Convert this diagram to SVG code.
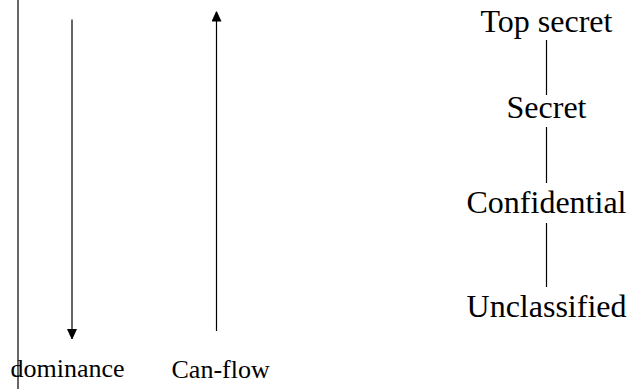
<svg xmlns="http://www.w3.org/2000/svg" width="628" height="389" viewBox="0 0 628 389">
<style>
.t{font-family:"Liberation Serif","Times New Roman",serif;fill:#000}
.big{font-size:32px;text-anchor:middle}
.sm{font-size:26px}
.ln{stroke:#000;stroke-width:1.2;fill:none}
</style>
<defs>
<marker id="ah" markerWidth="10" markerHeight="11" refX="10" refY="5" orient="auto" markerUnits="userSpaceOnUse">
<path d="M0,0 L11,5 L0,10 Z" fill="#000"/>
</marker>
</defs>
<rect width="628" height="389" fill="#fff"/>
<g id="connectors">
<line class="ln" x1="18" y1="0" x2="18" y2="389"/>
<line class="ln" x1="72" y1="19.5" x2="72" y2="339" marker-end="url(#ah)"/>
<line class="ln" x1="216.5" y1="331" x2="216.5" y2="11.5" marker-end="url(#ah)"/>
<line class="ln" x1="546.5" y1="40" x2="546.5" y2="95"/>
<line class="ln" x1="546.5" y1="127" x2="546.5" y2="183"/>
<line class="ln" x1="546.5" y1="223" x2="546.5" y2="287"/>
</g>
<g id="dominance"><text class="t sm" x="10.5" y="377">dominance</text></g>
<g id="canflow"><text class="t sm" x="171.5" y="378">Can-flow</text></g>
<g id="topsecret"><text class="t big" x="546.5" y="32">Top secret</text></g>
<g id="secret"><text class="t big" x="546.5" y="118">Secret</text></g>
<g id="confidential"><text class="t big" x="546.5" y="213">Confidential</text></g>
<g id="unclassified"><text class="t big" x="546.5" y="317">Unclassified</text></g>
</svg>
